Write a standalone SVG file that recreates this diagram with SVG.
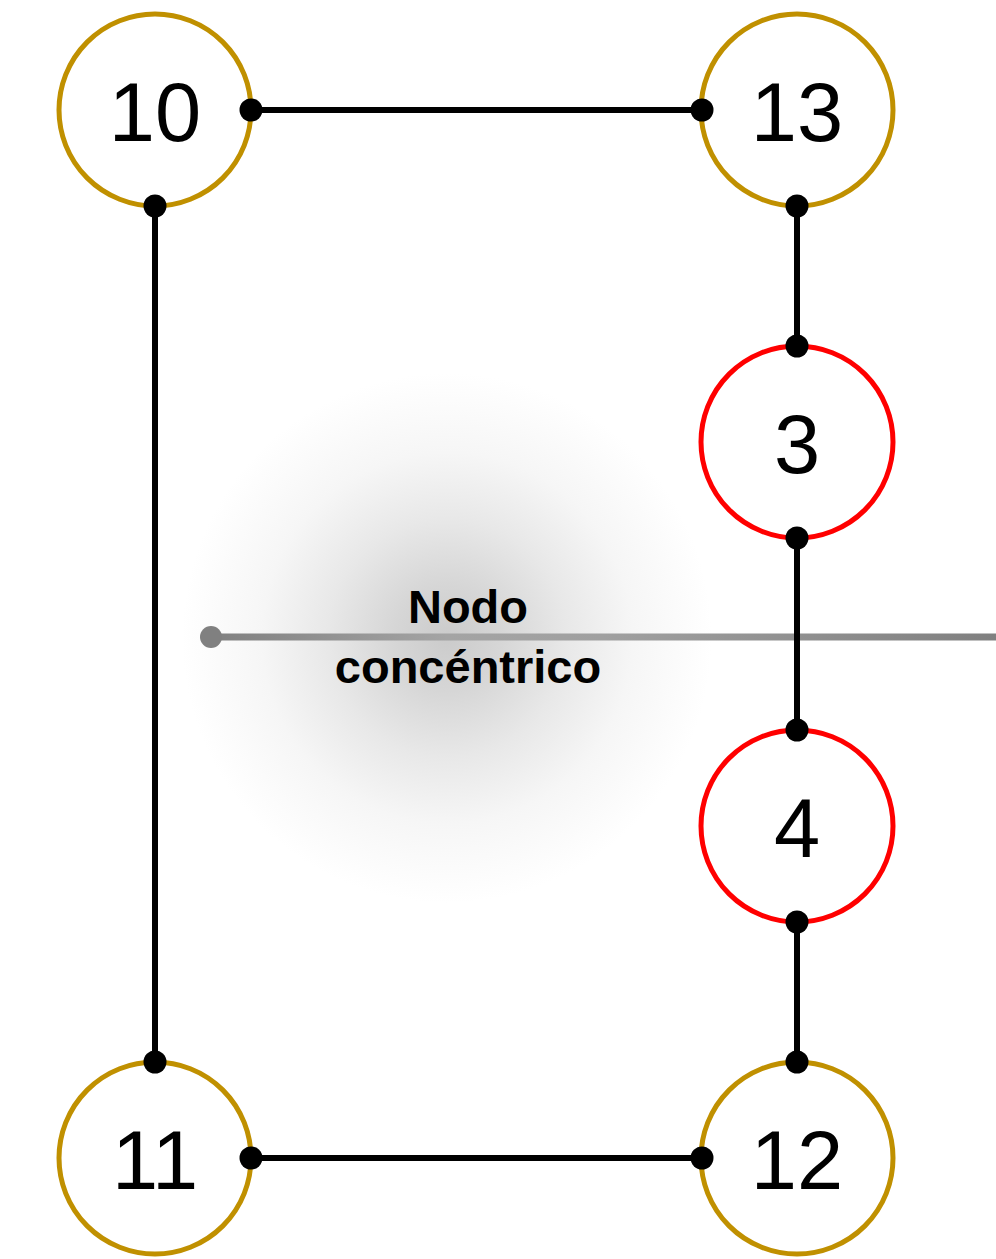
<svg xmlns="http://www.w3.org/2000/svg" width="996" height="1259" viewBox="0 0 996 1259">
<defs>
<radialGradient id="halo" cx="447" cy="638" r="265" gradientUnits="userSpaceOnUse">
<stop offset="0" stop-color="#cbcbcb"/>
<stop offset="0.2" stop-color="#d6d6d6"/>
<stop offset="0.45" stop-color="#e8e8e8"/>
<stop offset="0.7" stop-color="#f6f6f6"/>
<stop offset="1" stop-color="#ffffff"/>
</radialGradient>
<linearGradient id="gline" x1="211" y1="0" x2="996" y2="0" gradientUnits="userSpaceOnUse">
<stop offset="0" stop-color="#808080"/>
<stop offset="0.3" stop-color="#a4a4a4"/>
<stop offset="0.5" stop-color="#a0a0a0"/>
<stop offset="1" stop-color="#808080"/>
</linearGradient>
</defs>
<style>
.gold{fill:#fff;stroke:#c09000;stroke-width:5}
.red{fill:#fff;stroke:#ff0000;stroke-width:5}
.num{font-family:"Liberation Sans",Arial,sans-serif;font-size:83px;fill:#000;text-anchor:middle}
.edge{stroke:#000;stroke-width:6;fill:none}
.dot{fill:#000}
.lbl{font-family:"Liberation Sans",Arial,sans-serif;font-size:47px;font-weight:bold;fill:#000;text-anchor:middle}
</style>
<rect width="996" height="1259" fill="#fff"/>
<g id="concentric">
<circle cx="447" cy="638" r="265" fill="url(#halo)"/>
<line x1="211" y1="637" x2="996" y2="637" stroke="url(#gline)" stroke-width="7"/>
<circle cx="211" cy="637" r="11" fill="#808080"/>
<text class="lbl" x="468" y="623">Nodo</text>
<text class="lbl" x="468" y="683">concéntrico</text>
</g>
<g id="node-10"><circle class="gold" cx="155" cy="110" r="96"/><text class="num" x="155" y="141">10</text></g>
<g id="node-13"><circle class="gold" cx="797" cy="110" r="96"/><text class="num" x="797" y="141">13</text></g>
<g id="node-3"><circle class="red" cx="797" cy="442" r="96"/><text class="num" x="797" y="473">3</text></g>
<g id="node-4"><circle class="red" cx="797" cy="826" r="96"/><text class="num" x="797" y="857">4</text></g>
<g id="node-11"><circle class="gold" cx="155" cy="1158" r="96"/><text class="num" x="155" y="1189">11</text></g>
<g id="node-12"><circle class="gold" cx="797" cy="1158" r="96"/><text class="num" x="797" y="1189">12</text></g>
<g id="connectors">
<line class="edge" x1="251" y1="110" x2="702" y2="110"/>
<circle class="dot" cx="251" cy="110" r="11.5"/><circle class="dot" cx="702" cy="110" r="11.5"/>
<line class="edge" x1="155" y1="206" x2="155" y2="1062"/>
<circle class="dot" cx="155" cy="206" r="11.5"/><circle class="dot" cx="155" cy="1062" r="11.5"/>
<line class="edge" x1="797" y1="206" x2="797" y2="346"/>
<circle class="dot" cx="797" cy="206" r="11.5"/><circle class="dot" cx="797" cy="346" r="11.5"/>
<line class="edge" x1="797" y1="538" x2="797" y2="730"/>
<circle class="dot" cx="797" cy="538" r="11.5"/><circle class="dot" cx="797" cy="730" r="11.5"/>
<line class="edge" x1="797" y1="922" x2="797" y2="1062"/>
<circle class="dot" cx="797" cy="922" r="11.5"/><circle class="dot" cx="797" cy="1062" r="11.5"/>
<line class="edge" x1="251" y1="1158" x2="702" y2="1158"/>
<circle class="dot" cx="251" cy="1158" r="11.5"/><circle class="dot" cx="702" cy="1158" r="11.5"/>
</g>
</svg>
